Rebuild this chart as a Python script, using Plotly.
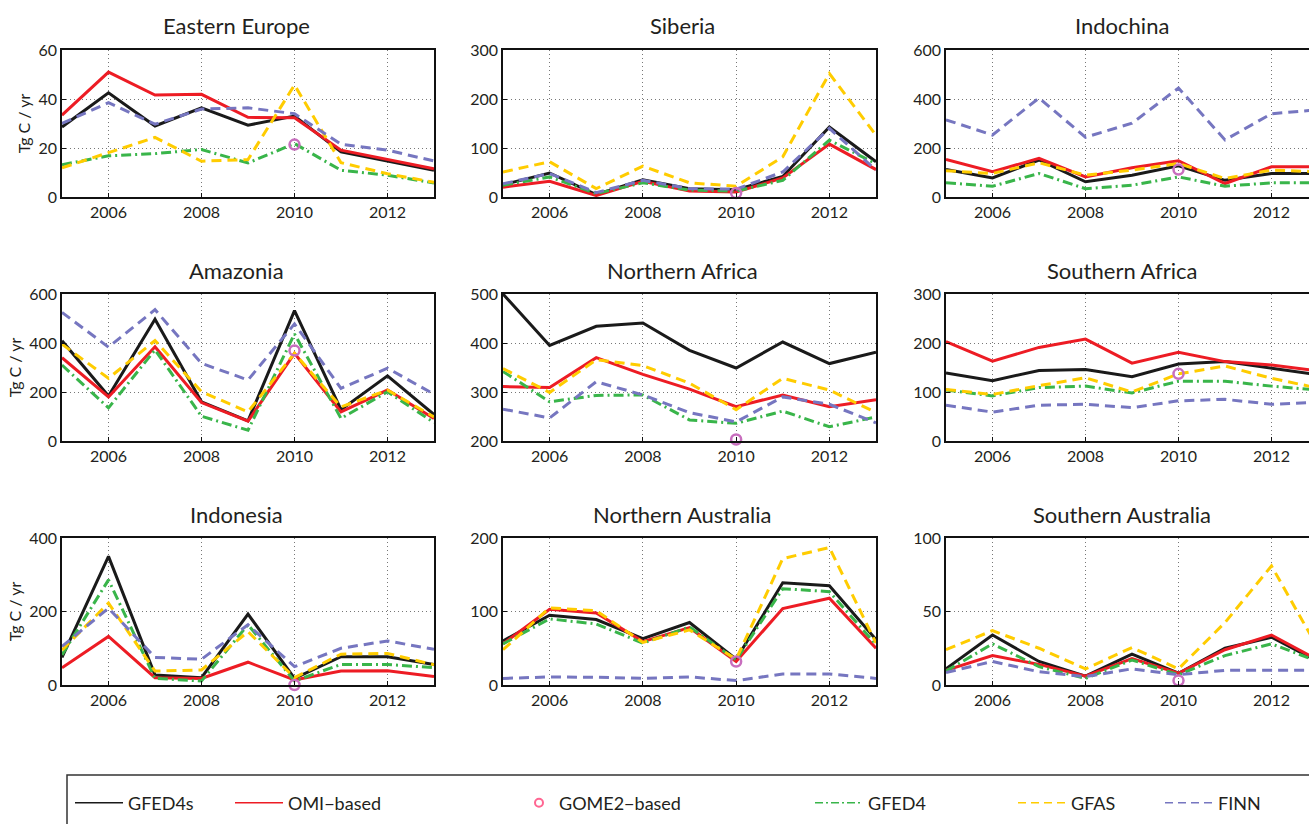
import plotly.graph_objects as go
from plotly.subplots import make_subplots

YEARS = [2005, 2006, 2007, 2008, 2009, 2010, 2011, 2012, 2013]
REGIONS = ["Eastern Europe", "Siberia", "Indochina",
           "Amazonia", "Northern Africa", "Southern Africa",
           "Indonesia", "Northern Australia", "Southern Australia"]
Y_RANGES = [[0, 60], [0, 300], [0, 600],
            [0, 600], [200, 500], [0, 300],
            [0, 400], [0, 200], [0, 100]]
Y_TICKS = [[0, 20, 40, 60], [0, 100, 200, 300], [0, 200, 400, 600],
           [0, 200, 400, 600], [200, 300, 400, 500], [0, 100, 200, 300],
           [0, 200, 400], [0, 100, 200], [0, 50, 100]]
X_TICKS = [2006, 2008, 2010, 2012]
X_TICK_LABELS = ["2006", "2008", "2010", "2012"]

GFED4S = [
    [28.6, 42.5, 29, 36.4, 29.3, 33, 18.4, 14.6, 10.9],
    [25, 49, 5, 35, 17, 15, 42, 143, 72],
    [112, 78, 151, 62, 89, 127, 68, 96, 96],
    [409, 184, 497, 160, 82, 532, 128, 266, 108],
    [500, 395, 434, 441, 385, 349, 402, 358, 381],
    [139, 123, 144, 146, 131, 157, 162, 148, 135],
    [75, 350, 27, 20, 193, 18, 77, 77, 56],
    [60, 95, 89, 63, 85, 35, 139, 135, 62],
    [11, 34, 16, 6, 21, 8, 25, 32.5, 16],
]
OMI = [
    [33.4, 51, 41.6, 41.9, 32.5, 32.3, 19.1, 15.4, 11.5],
    [20, 32, 3, 32, 12, 10, 39, 108, 56],
    [153, 103, 158, 82, 119, 148, 55, 123, 123],
    [340, 180, 385, 157, 81, 358, 119, 208, 92],
    [311, 309, 370, 336, 306, 270, 294, 270, 284],
    [203, 163, 191, 208, 159, 181, 162, 155, 143],
    [47, 132, 20, 18, 62, 14, 38, 39, 23],
    [56, 103, 98, 59, 78, 32, 104, 118, 50],
    [10, 20, 14, 6, 18, 8, 24, 34, 17],
]
GOME2_YEAR = [2010]
GOME2 = [21.4, 8, 112, 369, 203, 137, 0, 32, 3]
GFED4 = [
    [13.2, 16.8, 17.7, 19.4, 13.9, 21.8, 10.9, 8.9, 5.7],
    [24, 41, 7, 29, 14, 12, 34, 116, 68],
    [58, 44, 96, 34, 48, 82, 44, 58, 58],
    [310, 135, 372, 101, 44, 437, 92, 201, 75],
    [342, 280, 293, 294, 243, 236, 261, 229, 249],
    [104, 92, 109, 112, 98, 122, 122, 112, 104],
    [82, 286, 18, 11, 164, 11, 56, 56, 47],
    [56, 90, 83, 57, 79, 34, 131, 127, 55],
    [9.5, 28, 12.5, 4.5, 17, 7, 20, 28, 16],
]
GFAS = [
    [11.9, 18, 24.3, 14.6, 15.3, 45.7, 14, 9.5, 6],
    [51, 72, 17, 63, 29, 22, 82, 252, 126],
    [107, 96, 140, 89, 110, 137, 75, 110, 103],
    [395, 256, 410, 201, 119, 358, 139, 208, 98],
    [348, 299, 366, 354, 318, 264, 328, 304, 258],
    [105, 95, 113, 129, 100, 137, 153, 128, 108],
    [95, 223, 38, 41, 145, 20, 84, 86, 55],
    [48, 105, 101, 58, 75, 35, 172, 187, 57],
    [24, 37, 25, 11, 25.5, 11, 42.5, 81, 25],
]
FINN = [
    [30, 38.5, 29.7, 35.9, 36.4, 34, 21.5, 19.1, 14.7],
    [27, 48, 9, 34, 17, 16, 51, 140, 55],
    [315, 253, 404, 244, 301, 445, 233, 340, 356],
    [525, 383, 536, 317, 249, 478, 215, 297, 191],
    [265, 247, 321, 294, 258, 239, 290, 275, 237],
    [73, 59, 73, 75, 68, 82, 85, 75, 79],
    [105, 209, 75, 70, 164, 50, 100, 120, 97],
    [9, 11, 10.5, 9, 11, 6, 15, 15, 9],
    [8.5, 16, 9, 5.7, 11, 7, 10, 10, 10],
]

Y_TITLE = "Tg C / yr"

W, H = 1309, 824
FONT = "Lato"
TXT = "#231f20"
C_BLACK = "#1a1a1a"
C_RED = "#ed1c24"
C_GOME = "#c86ebe"
C_GREEN = "#39b54a"
C_YELLOW = "#ffcc00"
C_BLUE = "#7676c0"
LW = 3

STYLES = [
    ("GFED4s", GFED4S, dict(color=C_BLACK, width=LW)),
    ("OMI\u2212based", OMI, dict(color=C_RED, width=LW)),
    ("GFED4", GFED4, dict(color=C_GREEN, width=LW, dash="10px,4px,2px,4px")),
    ("GFAS", GFAS, dict(color=C_YELLOW, width=LW, dash="10px,6px")),
    ("FINN", FINN, dict(color=C_BLUE, width=LW, dash="10px,6px")),
]

# pixel geometry of panels
COL_PX = [(62, 434), (503, 876), (946, 1318)]
ROW_PX = [(50, 197), (294, 441), (538, 685)]
TITLE_X = [236, 682, 1122]
TITLE_Y = [25, 270, 514]

fig = make_subplots(rows=3, cols=3)

for i, region in enumerate(REGIONS):
    r, c = divmod(i, 3)
    for name, data, line in STYLES:
        fig.add_trace(go.Scatter(x=YEARS, y=data[i], mode="lines", line=line,
                                 name=name, showlegend=False, hoverinfo="skip"),
                      row=r + 1, col=c + 1)
    fig.add_trace(go.Scatter(x=GOME2_YEAR, y=[GOME2[i]], mode="markers",
                             marker=dict(symbol="circle-open", size=10,
                                         line=dict(color=C_GOME, width=2.5),
                                         color=C_GOME),
                             name="GOME2\u2212based", showlegend=False,
                             hoverinfo="skip", cliponaxis=False),
                  row=r + 1, col=c + 1)

    x0, x1 = COL_PX[c]
    y0, y1 = ROW_PX[r]
    px_per_year = (x1 - x0) / 8.0
    xmax = 2013 if x1 <= W else 2005 + (W - x0) / px_per_year
    xdom = [x0 / W, min(x1, W) / W]
    ydom = [(H - y1) / H, (H - y0) / H]
    idx = i + 1
    xa = "xaxis" if idx == 1 else f"xaxis{idx}"
    ya = "yaxis" if idx == 1 else f"yaxis{idx}"
    fig.layout[xa].update(
        domain=xdom, range=[2005, xmax], tickvals=X_TICKS, ticktext=X_TICK_LABELS,
        showgrid=True, gridcolor="#777777", griddash="1px,3px", gridwidth=1,
        showline=True, linecolor="#111111", linewidth=1.6, mirror=True,
        ticks="inside", ticklen=4, tickcolor="#111111", zeroline=False,
        automargin=False,
        tickfont=dict(family=FONT, size=16, color=TXT), fixedrange=True)
    fig.layout[ya].update(
        domain=ydom, range=Y_RANGES[i], tickvals=Y_TICKS[i],
        showgrid=True, gridcolor="#777777", griddash="1px,3px", gridwidth=1,
        showline=True, linecolor="#111111", linewidth=1.6,
        mirror=(True if x1 <= W else False),
        ticks="inside", ticklen=4, tickcolor="#111111", zeroline=False,
        automargin=False,
        tickfont=dict(family=FONT, size=16, color=TXT), fixedrange=True)
    if c == 0:
        fig.layout[ya].update(title=dict(text=Y_TITLE, standoff=4,
                                         font=dict(family=FONT, size=16, color=TXT)))
    fig.add_annotation(text=region, x=TITLE_X[c] / W, y=(H - TITLE_Y[r]) / H,
                       xref="paper", yref="paper", xanchor="center", yanchor="middle",
                       showarrow=False, font=dict(family=FONT, size=22, color=TXT))

# legend-only entries (thin lines as in the reference legend)
LEGEND_X = [70, 230, 519, 810, 1013, 1160]
LEGEND_ITEMW = [48, 48, 30, 48, 48, 48]
LEG_ITEMS = [
    ("GFED4s", dict(mode="lines", line=dict(color=C_BLACK, width=1.6))),
    ("OMI\u2212based", dict(mode="lines", line=dict(color=C_RED, width=1.6))),
    ("GOME2\u2212based", dict(mode="markers", marker=dict(symbol="circle-open", size=8,
                                                         line=dict(color=C_GOME, width=2)))),
    ("GFED4", dict(mode="lines", line=dict(color=C_GREEN, width=1.6, dash="8px,3px,2px,3px"))),
    ("GFAS", dict(mode="lines", line=dict(color=C_YELLOW, width=1.6, dash="8px,5px"))),
    ("FINN", dict(mode="lines", line=dict(color=C_BLUE, width=1.6, dash="8px,5px"))),
]
legend_layouts = {}
for k, (name, style) in enumerate(LEG_ITEMS):
    lname = "legend" if k == 0 else f"legend{k + 1}"
    fig.add_trace(go.Scatter(x=[None], y=[None], name=name, showlegend=True,
                             legend=lname, hoverinfo="skip", **style), row=1, col=1)
    legend_layouts[lname] = dict(
        x=LEGEND_X[k] / W, y=(H - 803) / H, xanchor="left", yanchor="middle",
        orientation="h", bgcolor="rgba(0,0,0,0)", borderwidth=0,
        itemwidth=LEGEND_ITEMW[k], font=dict(family=FONT, size=18, color=TXT))

fig.update_layout(**legend_layouts)

fig.add_shape(type="rect", xref="paper", yref="paper",
              x0=67 / W, x1=1.02, y0=-0.02, y1=(H - 775) / H,
              line=dict(color="#333333", width=1.5), fillcolor="rgba(0,0,0,0)",
              layer="below")

fig.update_layout(width=W, height=H, margin=dict(l=0, r=0, t=0, b=0, pad=0),
                  paper_bgcolor="white", plot_bgcolor="white", hovermode=False,
                  font=dict(family=FONT, color=TXT), showlegend=True)

fig.write_html("out.html", config={"displayModeBar": False},
               post_script="document.body.style.margin='0';document.body.style.overflow='hidden';")
